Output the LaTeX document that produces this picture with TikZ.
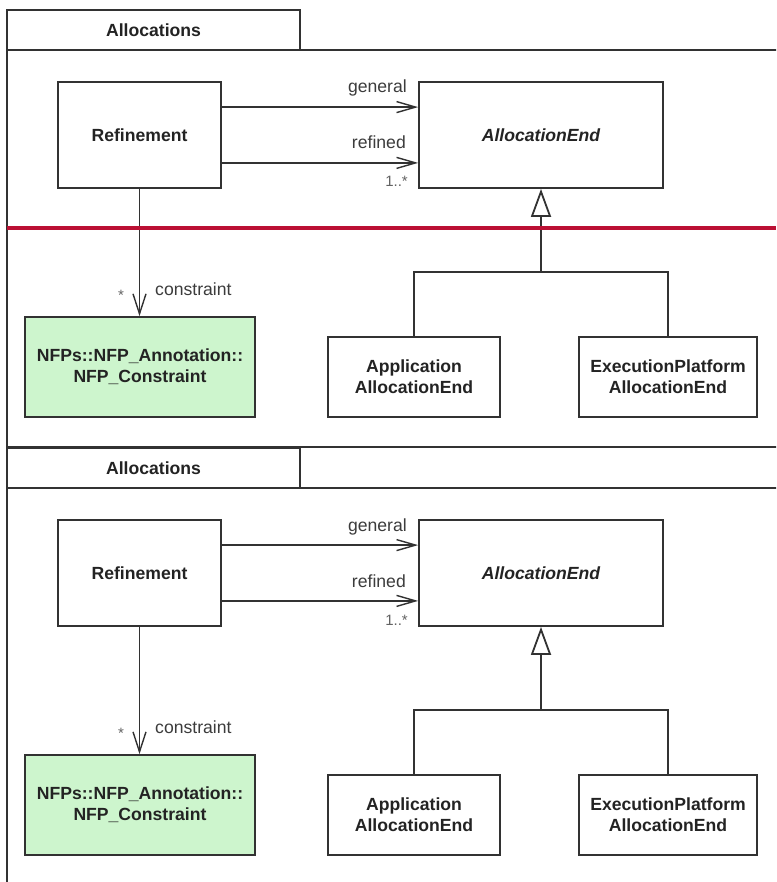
\documentclass[tikz,border=0pt]{standalone}
\usepackage{fontspec}
\setmainfont{Liberation Sans}
\usetikzlibrary{arrows.meta}
\definecolor{ln}{RGB}{50,50,50}
\definecolor{txt}{RGB}{35,35,35}
\definecolor{lbltxt}{RGB}{60,60,60}
\definecolor{nfpgreen}{RGB}{205,245,205}
\definecolor{redline}{RGB}{187,16,52}
\tikzset{
  pkgline/.style={draw=ln, line width=1.5pt},
  tabbox/.style={draw=ln, line width=1.5pt, fill=white, inner sep=0pt,
    minimum width=293pt, minimum height=40pt, text=txt,
    font=\bfseries\fontsize{17.6}{21}\selectfont},
  cls/.style={draw=ln, line width=1.8pt, fill=white, inner sep=0pt, align=center,
    text=txt, font=\bfseries\fontsize{17.6}{21}\selectfont},
  assoc/.style={draw=ln, line width=1.4pt,
    -{Straight Barb[length=19pt,width=11pt,line width=1.4pt]}},
  assocv/.style={draw=ln, line width=1.4pt,
    -{Straight Barb[length=20pt,width=13pt,line width=1.4pt]}},
  genline/.style={draw=ln, line width=2.8pt,
    -{Triangle[open,length=28pt,width=20pt,line width=1.8pt]}},
  branch/.style={draw=ln, line width=1.8pt},
  lbl/.style={inner sep=0pt, text=lbltxt, font=\fontsize{17.6}{21}\selectfont},
  smalllbl/.style={inner sep=0pt, text=lbltxt!80, font=\fontsize{15}{18}\selectfont},
}
\newcommand\allocpkg{%
  \node[tabbox] (tab) at (153.5,30) {Allocations};
  \node[cls, minimum width=163pt, minimum height=106pt] (ref) at (139.5,135) {Refinement};
  \node[cls, minimum width=244pt, minimum height=106pt, font=\bfseries\itshape\fontsize{17.6}{21}\selectfont] (ae) at (541,135) {AllocationEnd};
  \node[cls, fill=nfpgreen, minimum width=230pt, minimum height=100pt] (nfp) at (140,367) {NFPs::NFP\_Annotation::\\NFP\_Constraint};
  \node[cls, minimum width=172pt, minimum height=80pt] (app) at (414,377) {Application\\AllocationEnd};
  \node[cls, minimum width=178pt, minimum height=80pt] (epl) at (668,377) {ExecutionPlatform\\AllocationEnd};
  % associations
  \draw[assoc] ([yshift=-26pt]ref.north east) -- ([yshift=-26pt]ae.north west);
  \draw[assoc] ([yshift=26pt]ref.south east) -- ([yshift=26pt]ae.south west);
  \node[lbl, anchor=base east] (lgen) at (407,93) {general};
  \node[lbl, anchor=base east] (lref) at (406,149) {refined};
  \node[smalllbl, anchor=base east] (lmul) at (408,187) {1..*};
  \draw[assocv] (ref.south) -- (ref.south |- nfp.north);
  \node[lbl, anchor=base west] (lcon) at (155,295) {constraint};
  \node[smalllbl, anchor=base] (lstar) at (121,300) {*};
  % generalization
  \coordinate (j) at (541,272);
  \draw[branch] (app.north) |- (j) -| (epl.north);
  \draw[genline] (j) -- (ae.south);
}
\begin{document}
\begin{tikzpicture}[x=1pt,y=-1pt]
  \useasboundingbox (0,0) rectangle (776,882);
  \clip (0,0) rectangle (776,882);
  \fill[white] (0,0) rectangle (776,882);
  % package bodies
  \draw[pkgline] (790,50) -- (7,50) -- (7,447) -- (790,447);
  \draw[pkgline] (790,488) -- (7,488) -- (7,900);
  \begin{scope}[name prefix=t-]
    \allocpkg
  \end{scope}
  \begin{scope}[yshift=-438pt, name prefix=b-]
    \allocpkg
  \end{scope}
  \draw[redline, line width=4pt] (7,228) -- (776,228);
\end{tikzpicture}
\end{document}
